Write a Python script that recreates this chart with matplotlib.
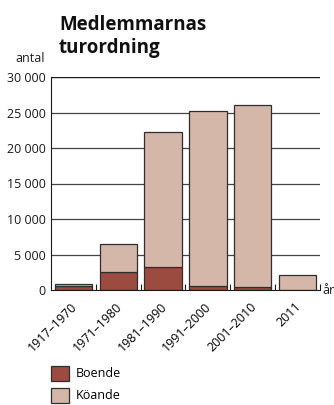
import matplotlib
matplotlib.use("Agg")
import matplotlib.pyplot as plt
from matplotlib.patches import Patch
from matplotlib.ticker import FuncFormatter
from matplotlib.transforms import ScaledTranslation

categories = ['1917–1970', '1971–1980', '1981–1990', '1991–2000', '2001–2010', '2011']
boende = [500, 2500, 3200, 600, 450, 60]
koande = [400, 4000, 19000, 24650, 25550, 2010]
yticks = [0, 5000, 10000, 15000, 20000, 25000, 30000]

c_boende = '#9b4b3f'
c_koande = '#d5b7aa'
edge = '#2e2e2e'

plt.rcParams['font.family'] = ['Open Sans', 'DejaVu Sans']

fig = plt.figure(figsize=(3.34, 4.05), dpi=100)
ax = fig.add_axes([51/334, 1-290/405, 269/334, 213/405])

x = list(range(len(categories)))
ax.bar(x, boende, width=0.83, color=c_boende, edgecolor=edge, linewidth=0.9, zorder=3)
ax.bar(x, koande, width=0.83, bottom=boende, color=c_koande, edgecolor=edge, linewidth=0.9, zorder=3)

ax.set_xlim(-0.5, len(categories) - 0.5)
ax.set_ylim(0, 30000)
ax.set_yticks(yticks)
ax.yaxis.set_major_formatter(FuncFormatter(lambda v, p: f"{int(v):,}".replace(',', ' ')))
ax.tick_params(axis='y', length=0, pad=4, labelsize=9, colors='#1a1a1a')

for v in yticks[1:]:
    ax.axhline(v, color='#1a1a1a' if v == 30000 else '#444444', lw=1.0 if v == 30000 else 0.9, zorder=1)

ax.set_xticks(x)
ax.set_xticklabels(categories, rotation=45, ha='right', va='top', rotation_mode='anchor', fontsize=9)
ax.tick_params(axis='x', which='major', length=0, pad=7)
shift = ScaledTranslation(-3/100, 0, fig.dpi_scale_trans)
for lbl in ax.get_xticklabels():
    lbl.set_transform(lbl.get_transform() + shift)
ax.set_xticks([i + 0.5 for i in x], minor=True)
ax.tick_params(axis='x', which='minor', direction='in', length=4, width=0.8, color='#1a1a1a')

for s in ['top', 'right']:
    ax.spines[s].set_visible(False)
ax.spines['left'].set_color('#1a1a1a')
ax.spines['bottom'].set_color('#1a1a1a')
ax.spines['bottom'].set_zorder(4)

fig.text(45/334, 1-58/405, 'antal', ha='right', va='center', fontsize=9, color='#1a1a1a')
fig.text(322/334, 1-290/405, 'år', ha='left', va='center', fontsize=9, color='#1a1a1a')
fig.text(59/334, 1-15/405, 'Medlemmarnas\nturordning', ha='left', va='top',
         fontsize=13.5, fontweight='bold', linespacing=1.22, color='#111111')

handles = [Patch(facecolor=c_boende, edgecolor=edge, linewidth=0.9, label='Boende'),
           Patch(facecolor=c_koande, edgecolor=edge, linewidth=0.9, label='Köande')]
fig.legend(handles=handles, loc='upper left', bbox_to_anchor=(48/334, 1-363/405),
           frameon=False, fontsize=9, handlelength=1.45, handleheight=1.5,
           handletextpad=0.55, labelspacing=0.55, borderaxespad=0, borderpad=0.2)

fig.savefig('out.png', dpi=100)
